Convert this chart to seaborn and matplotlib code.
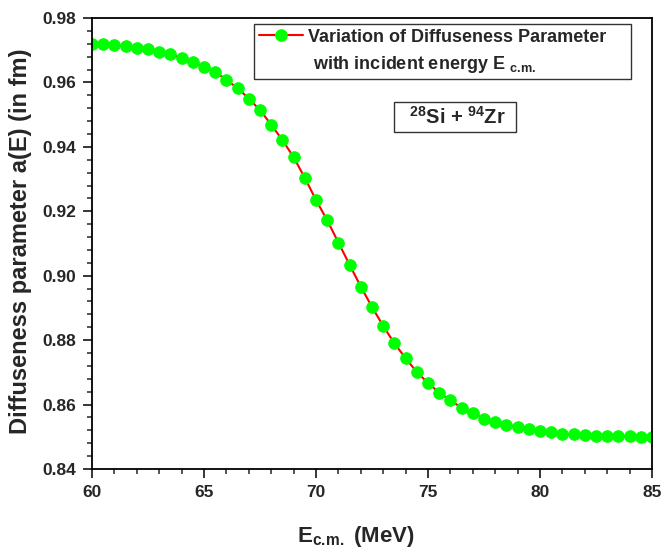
import matplotlib
matplotlib.use("Agg")
import matplotlib.pyplot as plt
import seaborn as sns
import pandas as pd
from matplotlib.ticker import MultipleLocator, FormatStrFormatter
from matplotlib.lines import Line2D

energy = [60.0, 60.5, 61.0, 61.5, 62.0, 62.5, 63.0, 63.5, 64.0, 64.5,
          65.0, 65.5, 66.0, 66.5, 67.0, 67.5, 68.0, 68.5, 69.0, 69.5,
          70.0, 70.5, 71.0, 71.5, 72.0, 72.5, 73.0, 73.5, 74.0, 74.5,
          75.0, 75.5, 76.0, 76.5, 77.0, 77.5, 78.0, 78.5, 79.0, 79.5,
          80.0, 80.5, 81.0, 81.5, 82.0, 82.5, 83.0, 83.5, 84.0, 84.5, 85.0]
diffuseness = [0.9720, 0.9718, 0.9716, 0.9712, 0.9707, 0.9703, 0.9695, 0.9687, 0.9676, 0.9664,
               0.9649, 0.9632, 0.9608, 0.9582, 0.9550, 0.9514, 0.9469, 0.9421, 0.9368, 0.9304,
               0.9235, 0.9172, 0.9103, 0.9034, 0.8966, 0.8903, 0.8844, 0.8790, 0.8744, 0.8701,
               0.8667, 0.8637, 0.8613, 0.8590, 0.8573, 0.8556, 0.8545, 0.8537, 0.8530, 0.8523,
               0.8518, 0.8514, 0.8510, 0.8508, 0.8505, 0.8503, 0.8502, 0.8502, 0.8501, 0.8500, 0.8500]

legend_line1 = "Variation of Diffuseness Parameter    "
legend_line2 = " with incident energy E $_{\\mathbf{c.\\!m.}}$"
system_label = "  $^{\\mathbf{28}}$Si + $^{\\mathbf{94}}$Zr  "
xlabel = "E$_{\\mathbf{c.\\!m.}}$ (MeV)"
ylabel = "Diffuseness parameter a(E) (in fm)"

sns.set_style("ticks")
plt.rcParams["font.family"] = ["Liberation Sans", "DejaVu Sans"]
plt.rcParams["font.weight"] = "bold"
plt.rcParams["mathtext.fontset"] = "custom"
plt.rcParams["mathtext.rm"] = "Liberation Sans:bold"
plt.rcParams["mathtext.bf"] = "Liberation Sans:bold"
plt.rcParams["mathtext.it"] = "Liberation Sans:bold:italic"

df = pd.DataFrame({"E": energy, "a": diffuseness})

fig = plt.figure(figsize=(6.64, 5.51), dpi=100)
ax = fig.add_axes([92 / 664, (551 - 469) / 551, (652 - 92) / 664, (469 - 18) / 551])

sns.lineplot(data=df, x="E", y="a", ax=ax, color="#ff0000", linewidth=1.5,
             marker="o", markersize=8.3, markerfacecolor="#00ff00",
             markeredgecolor="#00ff00", legend=False)

ax.set_xlim(60, 85)
ax.set_ylim(0.84, 0.98)
ax.xaxis.set_major_locator(MultipleLocator(5))
ax.xaxis.set_minor_locator(MultipleLocator(1))
ax.yaxis.set_major_locator(MultipleLocator(0.02))
ax.yaxis.set_minor_locator(MultipleLocator(0.004))
ax.yaxis.set_major_formatter(FormatStrFormatter("%.2f"))
ax.tick_params(which="major", direction="out", length=6.5, width=1.3, labelsize=12.5,
               top=False, right=False, pad=5)
ax.tick_params(which="minor", direction="out", length=3.3, width=1.1,
               top=False, right=False)
for lab in ax.get_xticklabels() + ax.get_yticklabels():
    lab.set_fontweight("bold")
for sp in ax.spines.values():
    sp.set_visible(True)
    sp.set_linewidth(1.3)
    sp.set_color("black")

ax.set_xlabel(xlabel, fontsize=16, fontweight="bold")
ax.set_ylabel(ylabel, fontsize=17, fontweight="bold")
ax.xaxis.set_label_coords(0.471, -0.123)
ax.yaxis.set_label_coords(-0.107, 0.505)

data_line = ax.get_lines()[0]
blank = Line2D([], [], linestyle="none", marker=None)
leg = ax.legend(handles=[data_line, blank], labels=[legend_line1, legend_line2],
                loc="upper left", bbox_to_anchor=(254 / 664, 1 - 24 / 551),
                bbox_transform=fig.transFigure, fancybox=False, frameon=True,
                edgecolor="#333333", framealpha=1, handlelength=2.45,
                handletextpad=0.3, borderpad=0.25, labelspacing=0.45,
                borderaxespad=0, prop={"weight": "bold", "size": 13})
leg.get_frame().set_linewidth(1.0)

ax.text(455 / 664, 1 - 117 / 551, system_label, transform=fig.transFigure,
        ha="center", va="center", fontsize=14.5, fontweight="bold",
        bbox=dict(boxstyle="square,pad=0.22", facecolor="white", edgecolor="#333333", linewidth=1.0))

fig.savefig("out.png", dpi=100)
